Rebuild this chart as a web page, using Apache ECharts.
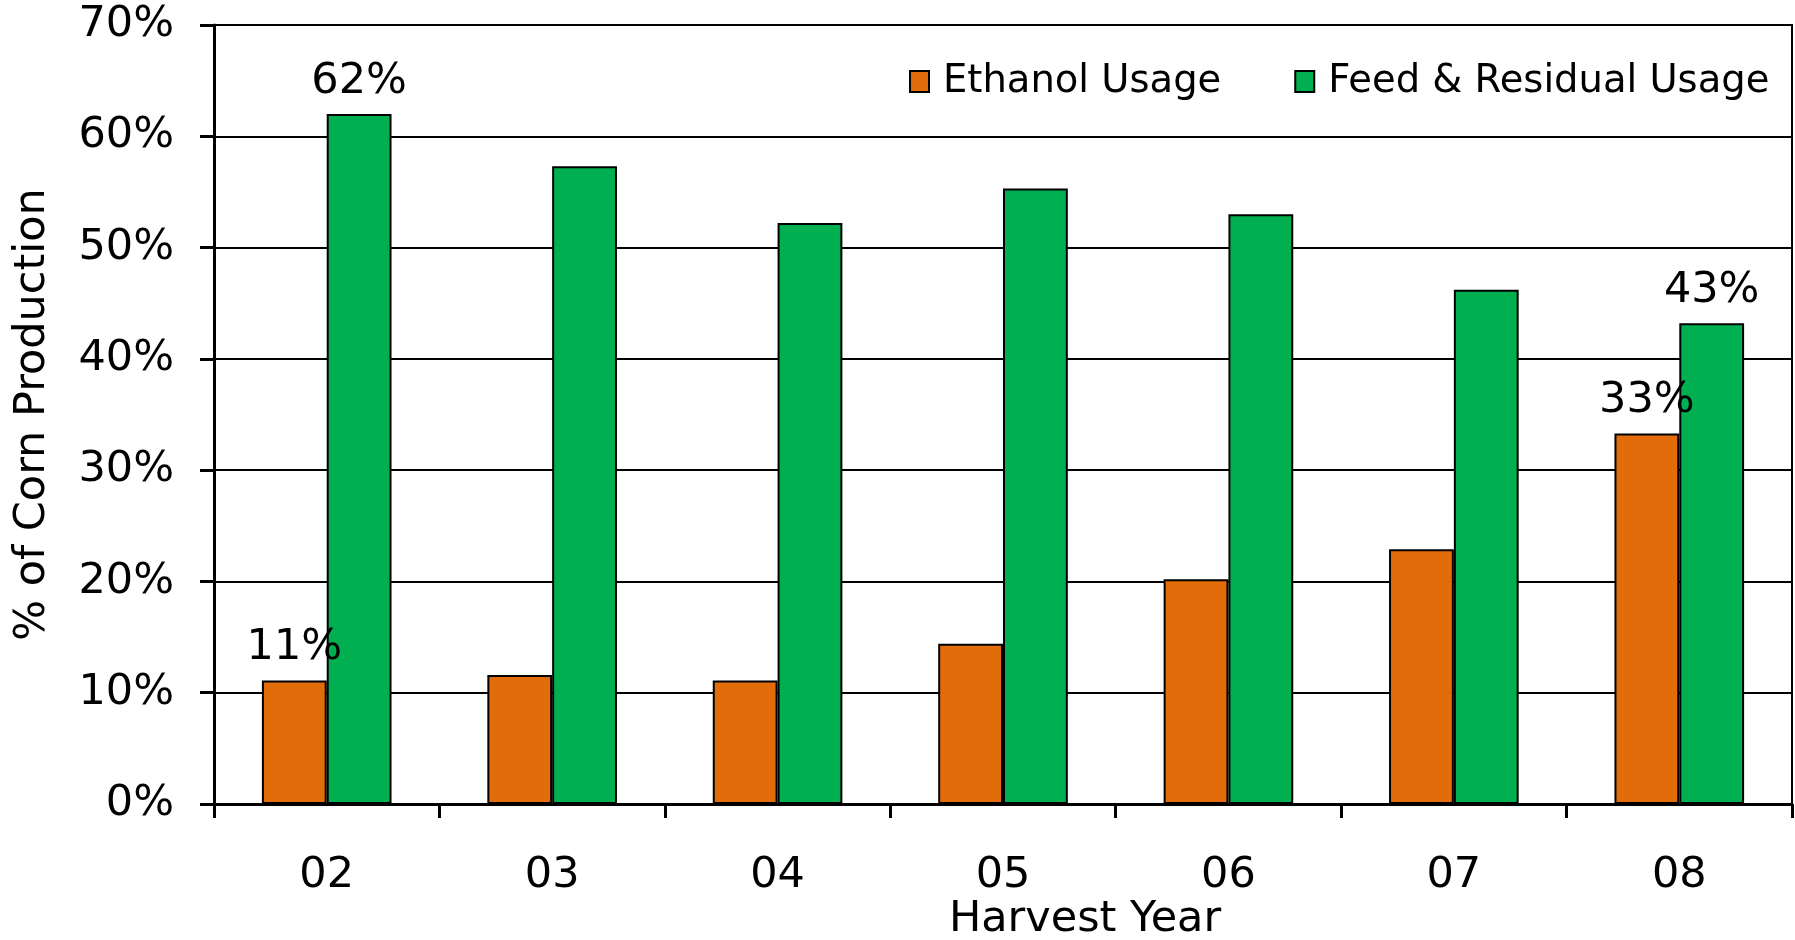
<!DOCTYPE html>
<html>
<head>
<meta charset="utf-8">
<script src="https://cdn.jsdelivr.net/npm/echarts@6/dist/echarts.min.js"></script>
<style>
html,body{margin:0;padding:0;background:#fff;}
#chart{width:1795px;height:940px;}
</style>
</head>
<body>
<div id="chart"></div>
<script>
const categories = ['02', '03', '04', '05', '06', '07', '08'];
const ethanolUsage = [11.1, 11.6, 11.1, 14.4, 20.2, 22.9, 33.3];
const feedResidualUsage = [62.0, 57.3, 52.2, 55.3, 53.0, 46.2, 43.2];
const ethanolLabelled = [0, 6];
const feedLabelled = [0, 6];
const yTicks = [0, 10, 20, 30, 40, 50, 60, 70];

const FONT = 'DejaVu Sans';
const FS = 43;
const chart = echarts.init(document.getElementById('chart'));

function withLabels(values, labelled) {
  return values.map((v, i) => labelled.includes(i)
    ? { value: v, label: { show: true } }
    : { value: v });
}

const labelStyle = {
  show: false,
  position: 'top',
  distance: 11,
  fontFamily: FONT,
  fontSize: FS,
  color: '#000',
  formatter: p => Math.round(p.value) + '%'
};

chart.setOption({
  animation: false,
  backgroundColor: '#fff',
  textStyle: { fontFamily: FONT },
  grid: {
    left: 214, right: 3, top: 25, bottom: 136,
    show: true, borderColor: '#000', borderWidth: 2
  },
  legend: {
    left: 904, top: 57,
    itemWidth: 19, itemHeight: 21, itemGap: 73,
    icon: 'rect',
    itemStyle: { borderColor: '#000', borderWidth: 2 },
    textStyle: { fontFamily: FONT, fontSize: 38.5, color: '#000', padding: [0, 0, 0, 9] },
    data: ['Ethanol Usage', 'Feed & Residual Usage']
  },
  xAxis: {
    type: 'category',
    data: categories,
    boundaryGap: true,
    axisLine: { lineStyle: { color: '#000', width: 3 } },
    axisTick: { show: true, length: 14, interval: 0, lineStyle: { color: '#000', width: 3 } },
    axisLabel: { fontFamily: FONT, fontSize: FS, color: '#000', margin: 50 }
  },
  yAxis: {
    type: 'value',
    min: yTicks[0], max: yTicks[yTicks.length - 1], interval: 10,
    name: '% of Corn Production',
    nameLocation: 'middle',
    nameGap: 160,
    nameTextStyle: { fontFamily: FONT, fontSize: FS, color: '#000' },
    axisLine: { show: true, lineStyle: { color: '#000', width: 3 } },
    axisTick: { show: true, length: 14, lineStyle: { color: '#000', width: 3 } },
    axisLabel: { fontFamily: FONT, fontSize: FS, color: '#000', margin: 40, formatter: v => v + '%' },
    splitLine: { show: true, lineStyle: { color: '#000', width: 2 } }
  },
  graphic: [{
    type: 'text',
    x: 1085, y: 920,
    style: { text: 'Harvest Year', fontFamily: FONT, fontSize: FS, fill: '#000', textAlign: 'center', textVerticalAlign: 'middle' }
  }],
  series: [
    {
      name: 'Ethanol Usage',
      type: 'bar',
      data: withLabels(ethanolUsage, ethanolLabelled),
      barGap: '0%',
      barCategoryGap: '42.5%',
      itemStyle: { color: '#E36C0A', borderColor: '#000', borderWidth: 2 },
      label: labelStyle
    },
    {
      name: 'Feed & Residual Usage',
      type: 'bar',
      data: withLabels(feedResidualUsage, feedLabelled),
      barGap: '0%',
      barCategoryGap: '42.5%',
      itemStyle: { color: '#00B050', borderColor: '#000', borderWidth: 2 },
      label: labelStyle
    }
  ]
});
</script>
</body>
</html>
